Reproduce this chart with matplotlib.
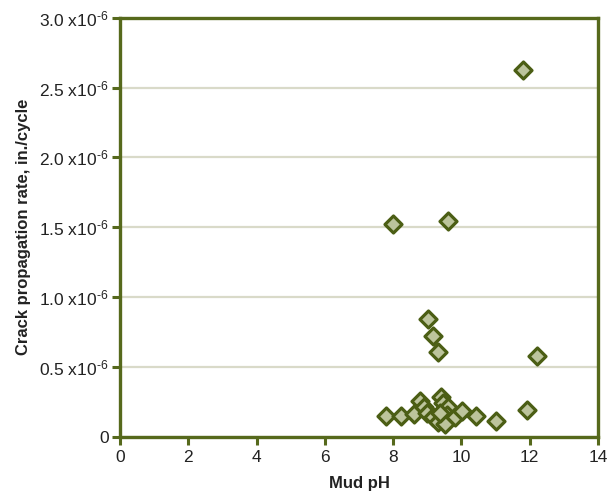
import matplotlib
matplotlib.use("Agg")
import matplotlib.pyplot as plt

plt.rcParams['font.family'] = ['Liberation Sans', 'DejaVu Sans']
plt.rcParams['mathtext.fontset'] = 'custom'
plt.rcParams['mathtext.rm'] = 'Liberation Sans'
plt.rcParams['mathtext.it'] = 'Liberation Sans'

# mud pH vs crack propagation rate (x1e-6 in./cycle)
mud_ph = [11.80, 8.00, 9.61, 9.02, 9.17, 9.31, 12.21, 11.92,
          7.79, 8.22, 8.61, 8.79, 8.90, 8.99, 9.17, 9.40, 9.46, 9.61,
          9.58, 9.31, 9.52, 9.37, 9.81, 10.02, 10.43, 11.01]
crack_rate = [2.627, 1.525, 1.546, 0.845, 0.723, 0.608, 0.580, 0.193,
              0.150, 0.150, 0.165, 0.258, 0.215, 0.172, 0.143, 0.286, 0.243, 0.215,
              0.157, 0.107, 0.093, 0.172, 0.143, 0.186, 0.150, 0.115]

y_ticks = [0, 0.5, 1.0, 1.5, 2.0, 2.5, 3.0]
y_labels = ['0'] + [f'{v:.1f} x10$^{{\u2010 6}}$' for v in y_ticks[1:]]
x_ticks = list(range(0, 15, 2))

olive = '#56691c'

fig = plt.figure(figsize=(6.09, 4.92), dpi=100)
ax = fig.add_axes([0.197, 0.112, 0.785, 0.852])

ax.scatter(mud_ph, crack_rate, marker='D', s=75, facecolor='#bcc49c',
           edgecolor='#4b5e14', linewidth=2.3, zorder=3)

ax.set_xlim(0, 14)
ax.set_ylim(0, 3.0)
ax.set_xticks(x_ticks)
ax.set_yticks(y_ticks)
ax.set_yticklabels(y_labels)
ax.yaxis.grid(True, color='#d9dac9', linewidth=1.6)
ax.set_axisbelow(True)

for s in ax.spines.values():
    s.set_color(olive)
    s.set_linewidth(2.4)
ax.tick_params(axis='both', colors=olive, width=2.2, length=6, labelsize=12.5,
               labelcolor='#222222')
ax.tick_params(axis='y', pad=2)

ax.set_xlabel('Mud pH', fontsize=12, fontweight='bold', color='#222222', labelpad=8)
ax.set_ylabel('Crack propagation rate, in./cycle', fontsize=12, fontweight='bold',
              color='#222222', labelpad=6)

fig.savefig('out.png', dpi=100)
